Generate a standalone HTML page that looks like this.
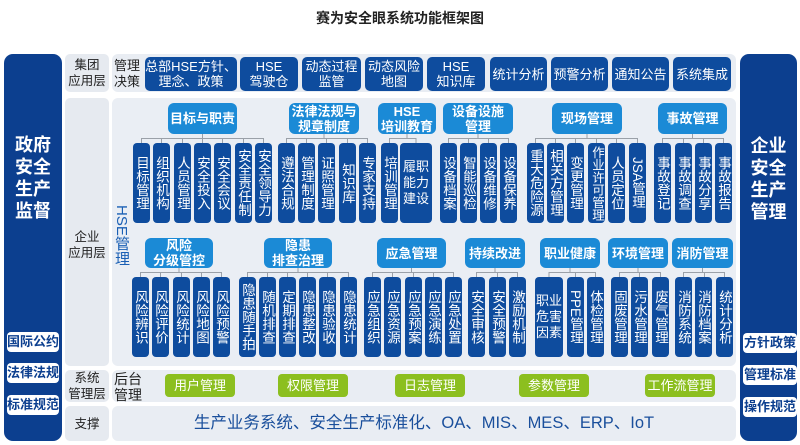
<!DOCTYPE html>
<html><head><meta charset="utf-8">
<style>
*{margin:0;padding:0;box-sizing:border-box}
body{width:800px;height:445px;background:#fff;position:relative;overflow:hidden;font-family:"Liberation Sans","Noto Sans CJK SC",sans-serif}
div{position:absolute}
.t{left:0;width:800px;top:8px;text-align:center;font-size:14px;font-weight:bold;color:#222}
.side{background:#0c3f8f;border-radius:9px;color:#fff;font-weight:bold}
.sb{background:#fff;border-radius:4px;color:#0c3f8f;font-size:13px;font-weight:bold;text-align:center;line-height:20px;height:20px}
.lab{background:#e6eaf0;border-radius:5px;left:65px;width:44px;color:#222;font-size:12.5px;text-align:center;line-height:16px;display:flex;align-items:center;justify-content:center}
.pn{background:#e9edf3;border-radius:6px;left:112px;width:624px}
.db{background:#0e4c9e;color:#fff;border-radius:5px;font-size:13px;text-align:center;line-height:15px;top:57px;height:34px;display:flex;align-items:center;justify-content:center}
.h{background:#1b8ad6;color:#fff;border-radius:6px;font-size:13px;font-weight:bold;text-align:center;line-height:15px;display:flex;align-items:center;justify-content:center}
.u{top:103px;height:31px}
.l{top:238px;height:30px}
.c{background:#0e4c9e;color:#fff;border-radius:4px;width:17px;height:80px;writing-mode:vertical-rl;font-size:13.5px;line-height:17px;text-align:center;letter-spacing:0}
.ct{top:143px}.cl{top:277px}
.w{writing-mode:horizontal-tb;font-size:13px;line-height:16px;display:flex;align-items:center;justify-content:center}
.g{background:#8cbf1f;color:#fff;border-radius:4px;top:374px;height:23px;line-height:23px;width:70px;text-align:center;font-size:13px}
.sm{font-size:13px;line-height:12px}
.tx{color:#222;font-size:13px;line-height:16px}
</style></head><body>
<div class="t">赛为安全眼系统功能框架图</div>

<div class="side" style="left:4px;top:54px;width:58px;height:387px">
 <div style="left:0;width:58px;top:80px;text-align:center;font-size:18px;line-height:22px">政府<br>安全<br>生产<br>监督</div>
 <div class="sb" style="left:3px;width:52px;top:278px">国际公约</div>
 <div class="sb" style="left:3px;width:52px;top:309px">法律法规</div>
 <div class="sb" style="left:3px;width:52px;top:341px">标准规范</div>
</div>
<div class="side" style="left:740px;top:54px;width:57px;height:387px">
 <div style="left:0;width:57px;top:81px;text-align:center;font-size:18px;line-height:22px">企业<br>安全<br>生产<br>管理</div>
 <div class="sb" style="left:3px;width:54px;top:279px">方针政策</div>
 <div class="sb" style="left:3px;width:54px;top:311px">管理标准</div>
 <div class="sb" style="left:3px;width:54px;top:343px">操作规范</div>
</div>

<div class="lab" style="top:54px;height:38px">集团<br>应用层</div>
<div class="lab" style="top:98px;height:268px"><span style="position:relative;top:13px">企业<br>应用层</span></div>
<div class="lab" style="top:370px;height:32px">系统<br>管理层</div>
<div class="lab" style="top:406px;height:35px">支撑</div>

<div class="pn" style="top:54px;height:38px"></div>
<div class="pn" style="top:98px;height:268px;background:#eaeef4"></div>
<div class="pn" style="top:370px;height:32px"></div>
<div class="pn" style="top:406px;height:35px"></div>

<div class="tx" style="left:114px;top:58px;width:30px">管理<br>决策</div>
<div class="db" style="left:145px;width:92px">总部HSE方针、<br>理念、政策</div>
<div class="db" style="left:240px;width:58px">HSE<br>驾驶仓</div>
<div class="db" style="left:302px;width:59px">动态过程<br>监管</div>
<div class="db" style="left:365px;width:58px">动态风险<br>地图</div>
<div class="db" style="left:427px;width:58px">HSE<br>知识库</div>
<div class="db" style="left:490px;width:57px">统计分析</div>
<div class="db" style="left:551px;width:57px">预警分析</div>
<div class="db" style="left:612px;width:57px">通知公告</div>
<div class="db" style="left:673px;width:58px">系统集成</div>

<div style="left:113px;top:205px;writing-mode:vertical-rl;color:#1a5fb4;font-size:15px;line-height:17px">HSE管理</div>

<svg width="800" height="445" style="position:absolute;left:0;top:0" fill="none" stroke="#9aa0a8" stroke-width="1">
<path d="M141.5 138.5H263.5M202.5 134V138.5M141.5 138V143M161.5 138V143M182.5 138V143M202.5 138V143M222.5 138V143M243.5 138V143M263.5 138V143"/>
<path d="M286.5 138.5H367.5M324 134V138.5M286.5 138V143M306.5 138V143M326.5 138V143M347.5 138V143M367.5 138V143"/>
<path d="M389.5 138.5H416M407 134V138.5M389.5 138V143M416 138V143"/>
<path d="M448.5 138.5H508.5M478 134V138.5M448.5 138V143M468.5 138V143M488.5 138V143M508.5 138V143"/>
<path d="M535.5 138.5H637.5M587 134V138.5M535.5 138V143M555.5 138V143M575.5 138V143M596.5 138V143M616.5 138V143M637.5 138V143"/>
<path d="M662.5 138.5H723.5M692.5 134V138.5M662.5 138V143M683.5 138V143M703.5 138V143M723.5 138V143"/>
<path d="M140.5 272.5H221.5M179 268V272.5M140.5 272V277M160.5 272V277M181.5 272V277M201.5 272V277M221.5 272V277"/>
<path d="M247.5 272.5H348.5M298 268V272.5M247.5 272V277M267.5 272V277M287.5 272V277M307.5 272V277M327.5 272V277M348.5 272V277"/>
<path d="M372.5 272.5H453.5M411.5 268V272.5M372.5 272V277M392.5 272V277M413.5 272V277M433.5 272V277M453.5 272V277"/>
<path d="M476.5 272.5H517.5M495 268V272.5M476.5 272V277M497.5 272V277M517.5 272V277"/>
<path d="M549 272.5H595.5M570 268V272.5M549 272V277M575.5 272V277M595.5 272V277"/>
<path d="M619.5 272.5H660.5M638 268V272.5M619.5 272V277M639.5 272V277M660.5 272V277"/>
<path d="M683.5 272.5H724.5M702.5 268V272.5M683.5 272V277M704.5 272V277M724.5 272V277"/>
</svg>

<div class="h u" style="left:168px;width:69px">目标与职责</div>
<div class="h u" style="left:289px;width:70px">法律法规与<br>规章制度</div>
<div class="h u" style="left:378px;width:58px">HSE<br>培训教育</div>
<div class="h u" style="left:443px;width:70px">设备设施<br>管理</div>
<div class="h u" style="left:552px;width:70px">现场管理</div>
<div class="h u" style="left:658px;width:69px">事故管理</div>

<div class="c ct" style="left:133px">目标管理</div>
<div class="c ct" style="left:153px">组织机构</div>
<div class="c ct" style="left:174px">人员管理</div>
<div class="c ct" style="left:194px">安全投入</div>
<div class="c ct" style="left:214px">安全会议</div>
<div class="c ct" style="left:235px">安全责任制</div>
<div class="c ct" style="left:255px">安全领导力</div>
<div class="c ct" style="left:278px">遵法合规</div>
<div class="c ct" style="left:298px">管理制度</div>
<div class="c ct" style="left:318px">证照管理</div>
<div class="c ct" style="left:339px">知识库</div>
<div class="c ct" style="left:359px">专家支持</div>
<div class="c ct" style="left:381px">培训管理</div>
<div class="c ct w" style="left:400px;width:32px">履职<br>能力<br>建设</div>
<div class="c ct" style="left:440px">设备档案</div>
<div class="c ct" style="left:460px">智能巡检</div>
<div class="c ct" style="left:480px">设备维修</div>
<div class="c ct" style="left:500px">设备保养</div>
<div class="c ct" style="left:527px">重大危险源</div>
<div class="c ct" style="left:547px">相关方管理</div>
<div class="c ct" style="left:567px">变更管理</div>
<div class="c ct sm" style="left:588px;line-height:17px;font-size:12.5px">作业许可管理</div>
<div class="c ct" style="left:608px">人员定位</div>
<div class="c ct" style="left:629px">JSA管理</div>
<div class="c ct" style="left:654px">事故登记</div>
<div class="c ct" style="left:675px">事故调查</div>
<div class="c ct" style="left:695px">事故分享</div>
<div class="c ct" style="left:715px">事故报告</div>

<div class="h l" style="left:145px;width:68px">风险<br>分级管控</div>
<div class="h l" style="left:264px;width:68px">隐患<br>排查治理</div>
<div class="h l" style="left:377px;width:69px">应急管理</div>
<div class="h l" style="left:465px;width:60px">持续改进</div>
<div class="h l" style="left:540px;width:60px">职业健康</div>
<div class="h l" style="left:608px;width:60px">环境管理</div>
<div class="h l" style="left:672px;width:61px">消防管理</div>

<div class="c cl" style="left:132px">风险辨识</div>
<div class="c cl" style="left:152px">风险评价</div>
<div class="c cl" style="left:173px">风险统计</div>
<div class="c cl" style="left:193px">风险地图</div>
<div class="c cl" style="left:213px">风险预警</div>
<div class="c cl" style="left:239px">隐患随手拍</div>
<div class="c cl" style="left:259px">随机排查</div>
<div class="c cl" style="left:279px">定期排查</div>
<div class="c cl" style="left:299px">隐患整改</div>
<div class="c cl" style="left:319px">隐患验收</div>
<div class="c cl" style="left:340px">隐患统计</div>
<div class="c cl" style="left:364px">应急组织</div>
<div class="c cl" style="left:384px">应急资源</div>
<div class="c cl" style="left:405px">应急预案</div>
<div class="c cl" style="left:425px">应急演练</div>
<div class="c cl" style="left:445px">应急处置</div>
<div class="c cl" style="left:468px">安全审核</div>
<div class="c cl" style="left:489px">安全预警</div>
<div class="c cl" style="left:509px">激励机制</div>
<div class="c cl w" style="left:535px;width:28px">职业<br>危害<br>因素</div>
<div class="c cl" style="left:567px">PPE管理</div>
<div class="c cl" style="left:587px">体检管理</div>
<div class="c cl" style="left:611px">固废管理</div>
<div class="c cl" style="left:631px">污水管理</div>
<div class="c cl" style="left:652px">废气管理</div>
<div class="c cl" style="left:675px">消防系统</div>
<div class="c cl" style="left:695px">消防档案</div>
<div class="c cl" style="left:716px">统计分析</div>

<div class="tx" style="left:114px;top:371px;font-size:14px">后台<br>管理</div>
<div class="g" style="left:165px">用户管理</div>
<div class="g" style="left:278px">权限管理</div>
<div class="g" style="left:395px">日志管理</div>
<div class="g" style="left:519px">参数管理</div>
<div class="g" style="left:645px">工作流管理</div>

<div style="left:112px;width:624px;top:413px;text-align:center;color:#1a4f9c;font-size:16.5px;line-height:20px">生产业务系统、安全生产标准化、OA、MIS、MES、ERP、IoT</div>
</body></html>
